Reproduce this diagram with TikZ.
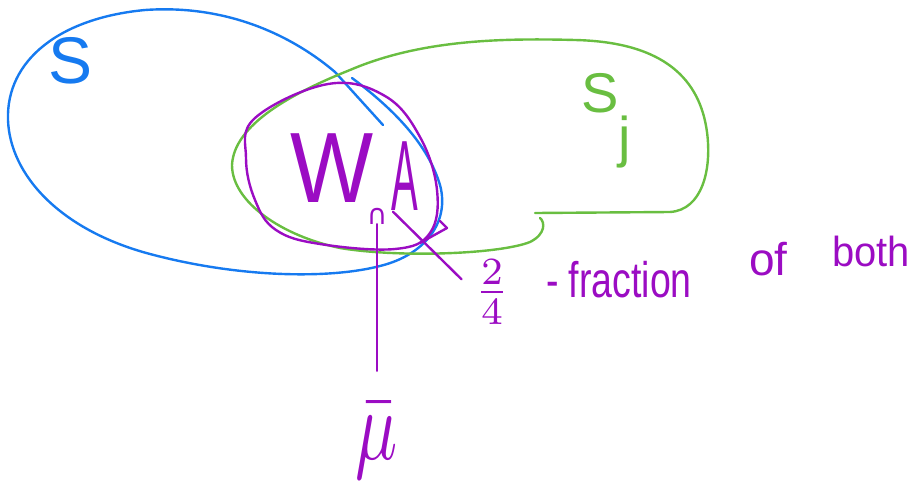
\documentclass[tikz,border=0pt]{standalone}
\usepackage{fontspec}
\setmainfont{Liberation Sans}
\newfontfamily\symfnt{DejaVu Sans}
\definecolor{sblue}{RGB}{22,122,240}
\definecolor{sgreen}{RGB}{105,190,65}
\definecolor{spurple}{RGB}{155,12,195}
\begin{document}
\begin{tikzpicture}[x=1pt,y=-1pt,line cap=round,line join=round,
  stroke/.style={line width=2.4pt},
  hand/.style={inner sep=0pt,outer sep=0pt}]
\useasboundingbox (0,0) rectangle (916,496);
% set S (blue)
\draw[stroke,sblue] (352,78) .. controls (395,110) and (428,145) .. (440,185)
  .. controls (450,222) and (425,255) .. (380,266)
  .. controls (330,279) and (240,278) .. (150,254)
  .. controls (60,230) and (10,175) .. (8,120)
  .. controls (6,60) and (60,18) .. (145,10)
  .. controls (230,4) and (295,38) .. (335,72) -- (383,125);
% set S_j (green)
\draw[stroke,sgreen] (535,213) -- (670,212)
  .. controls (702,210) and (712,170) .. (707,132)
  .. controls (700,80) and (665,42) .. (575,40)
  .. controls (500,38) and (420,40) .. (350,70)
  .. controls (290,94) and (234,125) .. (232,165)
  .. controls (232,202) and (282,236) .. (340,248)
  .. controls (400,258) and (500,254) .. (530,242)
  .. controls (546,234) and (545,222) .. (540,218);
% purple circle
\draw[stroke,spurple] plot[smooth cycle,tension=0.65] coordinates
  {(255,118) (328,84) (385,96) (420,137) (437,190) (430,233) (395,249) (320,244) (276,230) (255,200) (246,158)};
\draw[stroke,spurple] (420,243) -- (447,228) -- (440,221);
% labels
\node[hand,sblue,font=\fontsize{66}{66}\selectfont] (s) at (71,61) {S};
\node[hand,sgreen,font=\fontsize{56}{56}\selectfont,anchor=base west] (sj) at (581,112) {S\raisebox{-1.5ex}{j}};
\node[hand,spurple,font=\fontsize{100}{100}\selectfont] (w) at (332,168) {\scalebox{0.88}[1]{W}};
\node[hand,spurple,font=\symfnt\fontsize{28}{28}\selectfont] (cap) at (377,216) {∩};
\node[hand,spurple,font=\fontsize{100}{100}\selectfont] (a) at (405,176) {\scalebox{0.4}[1]{A}};
\node[hand,spurple] (mu) at (377,441) {\scalebox{7}[10]{$\bar{\mu}$}};
\node[hand,spurple] (frac) at (492,292) {\scalebox{5.5}{$\frac{2}{4}$}};
\node[hand,spurple,font=\fontsize{50}{50}\selectfont,anchor=base west] (fr) at (546,297) {\scalebox{0.75}[1]{- fraction}};
\node[hand,spurple,font=\fontsize{46}{46}\selectfont,anchor=base west] (of) at (749,275) {of};
\node[hand,spurple,font=\fontsize{42}{42}\selectfont,anchor=base west] (both) at (832,266) {\scalebox{0.95}[1]{both}};
% pointers
\draw[stroke,spurple,shorten >=32pt] (cap.south) -- (mu.north);
\draw[stroke,spurple,shorten <=2pt,shorten >=18pt] (a.south west) -- (frac.west);
\end{tikzpicture}
\end{document}
